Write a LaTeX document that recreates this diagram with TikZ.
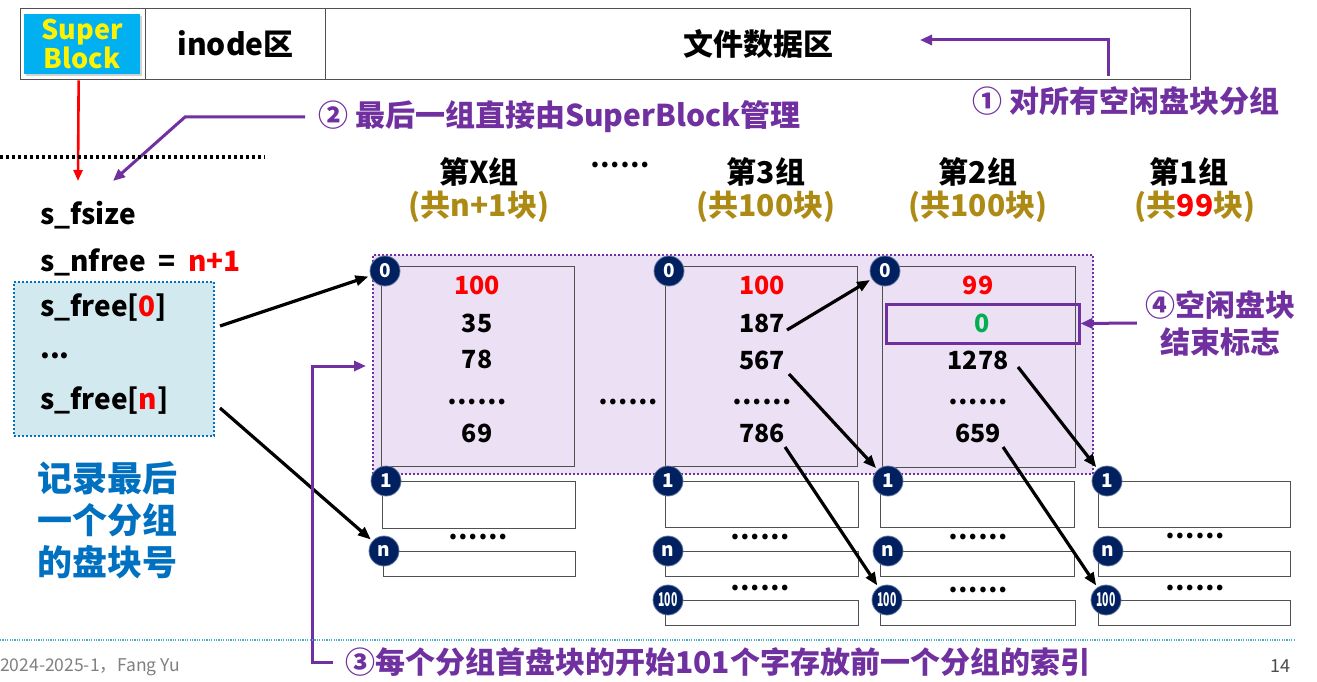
\documentclass[tikz,border=0pt]{standalone}
\usepackage{fontspec}
\usepackage{graphicx}
\setmainfont{Noto Sans CJK SC}
\usetikzlibrary{arrows.meta,shadows}
\definecolor{pur}{HTML}{7030A0}
\definecolor{lav}{HTML}{ECE0F5}
\definecolor{navy}{HTML}{002060}
\definecolor{sbcyan}{HTML}{00B0F0}
\definecolor{gold}{HTML}{AD8A14}
\definecolor{bluetxt}{HTML}{0070C0}
\definecolor{lblue}{HTML}{D3E9F0}
\definecolor{grn}{HTML}{00B050}
\definecolor{teal2}{HTML}{4BACC6}
\definecolor{boxgray}{HTML}{505050}
\newcommand\fsz[2]{\fontsize{#1}{#2}\selectfont\bfseries}
\newcommand\hund{\scalebox{0.55}[1]{100}}
\begin{document}
\begin{tikzpicture}[x=1pt,y=-1pt,
  cell/.style={draw=boxgray, line width=1.3, minimum height=71, anchor=north west, inner sep=0},
  blk/.style={draw=boxgray, line width=1.3, anchor=north west, inner sep=0},
  circ/.style={circle, fill=navy, draw=navy!60!white, line width=0.8, text=white, minimum size=30, inner sep=0, font=\fsz{19}{19}},
  num/.style={font=\fsz{25}{25}, inner sep=0},
  hdr/.style={font=\fsz{30}{30}, inner sep=0},
  sub/.style={font=\fsz{30}{30}, text=gold, inner sep=0},
  lft/.style={font=\fsz{28}{28}, anchor=west, inner sep=0},
  plbl/.style={font=\fsz{30}{30}, text=pur, inner sep=0},
  arr/.style={line width=3.2, -{Triangle[length=13,width=10]}, shorten >=2},
  parr/.style={draw=pur, line width=3, -{Triangle[length=12,width=10]}},
  dotsn/.style={font=\fsz{26}{26}, inner sep=0}
]
\useasboundingbox (0,0) rectangle (1317,682);
\fill[white] (0,0) rectangle (1317,682);

% top bar
\node[cell, minimum width=125] (sbcell) at (20,8) {};
\node[cell, minimum width=180, font=\fsz{30}{30}] (inodecell) at (145,8) {inode区};
\node[cell, minimum width=865, font=\fsz{30}{30}] (datacell) at (325,8) {文件数据区};
\node[fill=sbcyan, text=yellow, minimum width=116, minimum height=60, inner sep=0, align=center,
      font=\fsz{27}{27}, drop shadow={opacity=0.35, shadow xshift=1.5pt, shadow yshift=-2pt}] (sb) at (82,44) {Super\\Block};

% label 1
\node[plbl] (lbl1) at (1126,101) {① 对所有空闲盘块分组};
\coordinate (p1s) at (1108,76);
\coordinate (p1e) at (920,40);
\draw[parr] (p1s) -- (1108,40) -- (p1e);

% label 2
\node[plbl, anchor=west] (lbl2) at (318,117) {② 最后一组直接由SuperBlock管理};
\coordinate (p2e) at (113,181);
\draw[parr] ([xshift=-13pt]lbl2.west) -- (185,117) -- (p2e);

% red arrow and dotted line
\coordinate (redEnd) at (78,181);
\draw[red, line width=2.6, -{Triangle[length=11,width=9]}] ([xshift=-4.5pt]sbcell.south) -- (redEnd);
\draw[line width=3, dash pattern=on 3pt off 3pt] (0,157) -- (265,157);

% left superblock fields
\node[fill=lblue, draw=bluetxt, line width=2, dash pattern=on 2pt off 2pt, minimum width=200, minimum height=154, anchor=north west, inner sep=0] (sfbox) at (13,281) {};
\node[lft] (sfsize) at (40,215) {s\_fsize};
\node[lft] (snfree) at (40,262) {s\_nfree\hspace{0.45em}=\hspace{0.45em}\textcolor{red}{n+1}};
\node[lft] (sf0) at (40,308) {s\_free[\textcolor{red}{0}]};
\node[lft] (sfdots) at (40,356) {...};
\node[lft] (sfn) at (40,401) {s\_free[\textcolor{red}{n}]};
\node[font=\fsz{35}{42}, text=bluetxt, align=center, inner sep=0] (rec) at (107,520) {记录最后\\一个分组\\的盘块号};

% group headers
\node[hdr] (hX) at (479,172) {第X组};
\node[sub] (sX) at (479,207) {(共n+1块)};
\node[dotsn] (hdots) at (620,165) {……};
\node[hdr] (h3) at (766,172) {第3组};
\node[sub] (s3) at (766,207) {(共100块)};
\node[hdr] (h2) at (978,172) {第2组};
\node[sub] (s2) at (978,207) {(共100块)};
\node[hdr] (h1) at (1189,172) {第1组};
\node[sub] (s1) at (1195,207) {(共\textcolor{red}{99}块)};

% lavender region
\node[fill=lav, draw=pur, line width=2, dash pattern=on 2pt off 2pt, minimum width=720, minimum height=219, anchor=north west, inner sep=0] (lavreg) at (372,254) {};

% group X
\node[blk, minimum width=193, minimum height=200] (xb0) at (381,266) {};
\node[blk, minimum width=193, minimum height=47] (xb1) at (382,481) {};
\node[blk, minimum width=192, minimum height=25] (xbn) at (383,551) {};
\node[num, text=red] (xr0) at (477,285) {100};
\node[num] (xr1) at (477,323) {35};
\node[num] (xr2) at (477,359) {78};
\node[dotsn] (xr3) at (477,402) {……};
\node[num] (xr4) at (477,433) {69};
\node[dotsn] (xd1) at (478,537) {……};
\node[dotsn] (mdots) at (628,402) {……};

% group 3
\node[blk, minimum width=192, minimum height=200] (tb0) at (665,266) {};
\node[blk, minimum width=193, minimum height=46] (tb1) at (665,481) {};
\node[blk, minimum width=193, minimum height=25] (tbn) at (665,551) {};
\node[blk, minimum width=193, minimum height=25] (tb100) at (665,600) {};
\node[num, text=red] (tr0) at (762,285) {100};
\node[num] (tr1) at (762,323) {187};
\node[num] (tr2) at (762,360) {567};
\node[dotsn] (tr3) at (762,402) {……};
\node[num] (tr4) at (762,433) {786};
\node[dotsn] (td1) at (760,537) {……};
\node[dotsn] (td2) at (760,588) {……};

% group 2
\node[blk, minimum width=193, minimum height=201] (wb0) at (882,266) {};
\node[blk, minimum width=194, minimum height=46] (wb1) at (880,481) {};
\node[blk, minimum width=194, minimum height=25] (wbn) at (880,551) {};
\node[blk, minimum width=195, minimum height=25] (wb100) at (880,600) {};
\node[num, text=red] (wr0) at (978,285) {99};
\node[draw=pur, line width=3, minimum width=193, minimum height=39, inner sep=0, font=\fsz{25}{25}, text=grn] (wzero) at (982.5,323.5) {0};
\node[num] (wr2) at (978,360) {1278};
\node[dotsn] (wr3) at (978,402) {……};
\node[num] (wr4) at (978,433) {659};
\node[dotsn] (wd1) at (978,537) {……};
\node[dotsn] (wd2) at (978,590) {……};

% group 1
\node[blk, minimum width=192, minimum height=46] (ob1) at (1098,481) {};
\node[blk, minimum width=192, minimum height=25] (obn) at (1098,551) {};
\node[blk, minimum width=192, minimum height=25] (ob100) at (1098,600) {};
\node[dotsn] (od1) at (1195,536) {……};
\node[dotsn] (od2) at (1195,588) {……};

% circles
\node[circ] (xc0) at (385,271) {0};
\node[circ] (xc1) at (386,481) {1};
\node[circ] (xcn) at (384,551) {n};
\node[circ] (tc0) at (669,271) {0};
\node[circ] (tc1) at (668,481) {1};
\node[circ] (tcn) at (668,551) {n};
\node[circ] (tc100) at (668,600) {\hund};
\node[circ] (wc0) at (885,271) {0};
\node[circ] (wc1) at (888,481) {1};
\node[circ] (wcn) at (888,551) {n};
\node[circ] (wc100) at (887,600) {\hund};
\node[circ] (oc1) at (1107,481) {1};
\node[circ] (ocn) at (1108,551) {n};
\node[circ] (oc100) at (1106,600) {\hund};

% black arrows
\coordinate (a1) at (220,326);
\coordinate (a2) at (220,408);
\coordinate (a3) at (787,330);
\coordinate (a4) at (789,374);
\coordinate (a5) at (785,447);
\coordinate (a6) at (1018,367);
\coordinate (a7) at (1003,447);
\draw[arr] (a1) -- (xc0);
\draw[arr] (a2) -- (xcn);
\draw[arr] (a3) -- (wc0);
\draw[arr] (a4) -- (wc1);
\draw[arr] (a5) -- (wc100);
\draw[arr] (a6) -- (oc1);
\draw[arr] (a7) -- (oc100);

% label 3
\node[plbl, anchor=west] (lbl3) at (345,662) {③每个分组首盘块的开始101个字存放前一个分组的索引};
\coordinate (p3e) at (366,366);
\draw[parr] ([xshift=-12pt]lbl3.west) -- (312,662) -- (312,366) -- (p3e);

% label 4
\node[plbl, align=center, font=\fsz{30}{37}] (lbl4) at (1220,323) {④空闲盘块\\结束标志};
\draw[parr] ([xshift=-8pt]lbl4.west) -- (wzero.east);

% footer
\draw[teal2, line width=1.2, dash pattern=on 1.2pt off 1.2pt] (0,640) -- (1295,640);
\node[anchor=west, inner sep=0, font=\fontsize{17.5}{17.5}\selectfont, text=gray] (foot) at (0,667) {2024-2025-1，Fang Yu};
\node[inner sep=0, font=\fontsize{18}{18}\selectfont, text=black!70] (pg) at (1280,666) {14};
\end{tikzpicture}
\end{document}
